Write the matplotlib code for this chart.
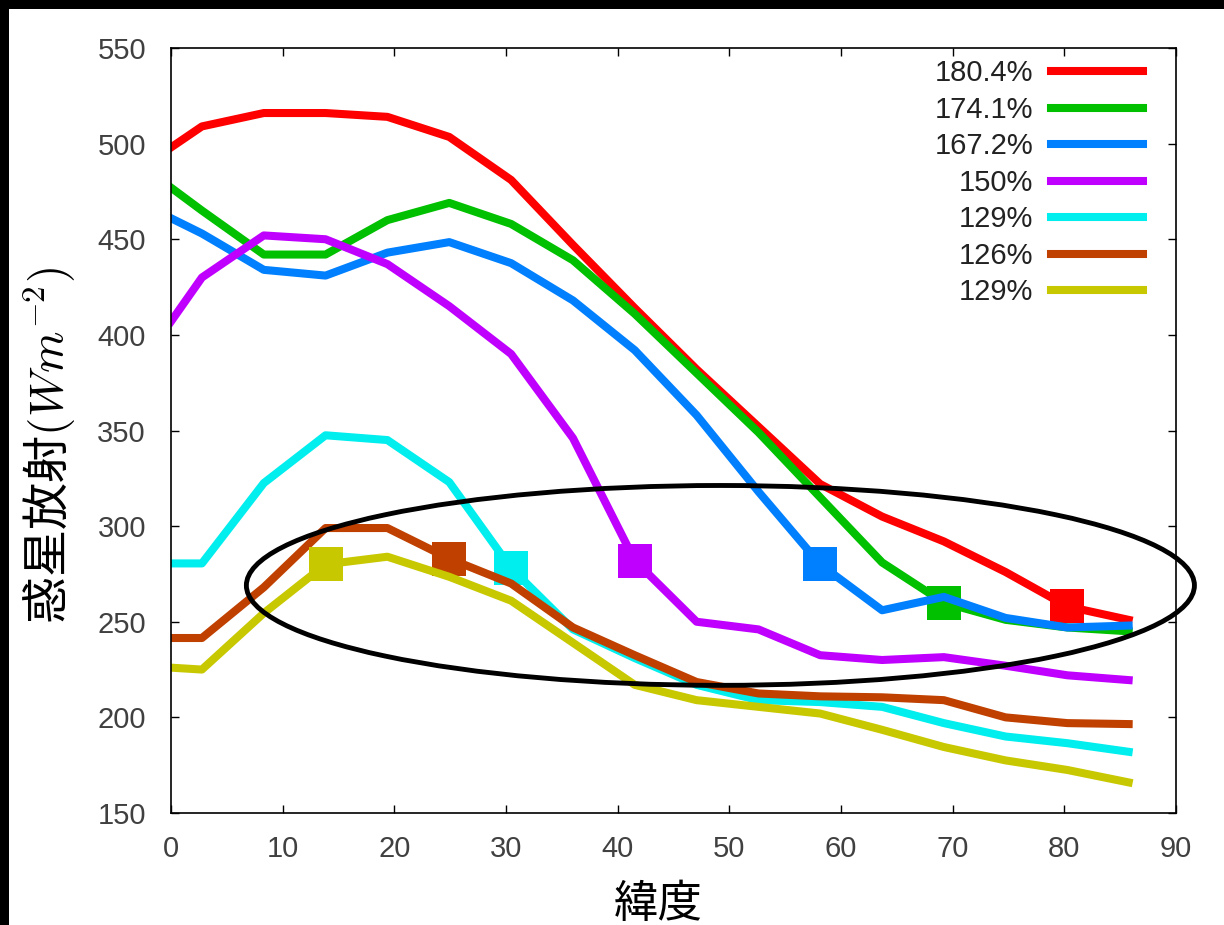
import matplotlib
matplotlib.use("Agg")
import matplotlib.pyplot as plt
from matplotlib.patches import Ellipse, Rectangle

plt.rcParams['font.family'] = ['Liberation Sans', 'Noto Sans CJK JP', 'DejaVu Sans']
plt.rcParams['mathtext.fontset'] = 'cm'

# latitude (deg) and outgoing radiation (W m^-2) per run
lat = [0, 2.77, 8.31, 13.84, 19.38, 24.92, 30.46, 36.0, 41.53, 47.07,
       52.61, 58.14, 63.68, 69.21, 74.74, 80.27, 85.76]

red = [498, 509, 516, 516, 514, 503.5, 481, 447, 414, 382, 352, 322, 305, 292, 276, 258, 251]
green = [477, 465, 442, 442, 460, 469, 458, 439, 411, 380, 349, 315, 281, 260, 251, 247, 245]
blue = [461, 453, 434, 431, 443, 448.5, 437.5, 418, 392, 358, 318, 280, 256, 263, 252, 247, 248]
purple = [407, 430, 452, 450, 437, 415, 390, 346, 282, 250, 246, 232.5, 230, 231.5, 227, 222, 219.5]
cyan = [280.5, 280.5, 322.5, 347.5, 345, 323, 278, 246, 231, 217, 209, 208, 205.5, 197, 190, 186.5, 182]
orange = [241.5, 241.5, 268, 299, 299, 283, 270, 247, 232.5, 218.5, 212.5, 211, 210.5, 209, 200, 197, 196.5]
yellow = [226, 225, 254.5, 280, 284, 273.5, 261, 239, 217, 209, 205.5, 202, 193.5, 184.5, 177.5, 172.5, 166]

series = [red, green, blue, purple, cyan, orange, yellow]
labels = ['180.4%', '174.1%', '167.2%', '150%', '129%', '126%', '129%']
colors = ['#ff0000', '#00c000', '#0080ff', '#c000ff', '#00eeee', '#c04000', '#c8c800']
marker_idx = [15, 13, 11, 8, 6, 5, 3]

fig = plt.figure(figsize=(12.24, 9.25), dpi=100)
fig.patch.set_facecolor('black')
fig.patches.append(Rectangle((9 / 1224, 0), 1, 916 / 925, transform=fig.transFigure,
                             facecolor='white', edgecolor='none', zorder=-10))

ax = fig.add_axes([171 / 1224, 1 - 813 / 925, 1005 / 1224, 765 / 925])

for vals, lab, col, mi in zip(series, labels, colors, marker_idx):
    ax.plot(lat, vals, color=col, lw=5.8, label=lab)
    ax.plot(lat[mi], vals[mi], 's', color=col, ms=25, mew=0)

# circled region
ax.add_patch(Ellipse((49.2, 269), 84.9, 104.5, fill=False, edgecolor='black',
                     lw=3.5, zorder=10, clip_on=False))

ax.set_xlim(0, 90)
ax.set_ylim(150, 550)
ax.set_xticks(range(0, 91, 10))
ax.set_yticks(range(150, 551, 50))
ax.tick_params(direction='in', length=6, width=1, top=True, right=True,
               labelsize=21, labelcolor='#404040')
ax.tick_params(axis='y', pad=18)
ax.tick_params(axis='x', pad=16)
for sp in ax.spines.values():
    sp.set_linewidth(1.2)

ax.set_xlabel('緯度', fontsize=32, labelpad=13, fontfamily='Noto Sans CJK JP')
ax.xaxis.label.set_x(0.485)
ax.set_ylabel('惑星放射$(W m^{-2})$', fontsize=34, labelpad=14,
              fontfamily='Noto Sans CJK JP')
ax.yaxis.label.set_y(0.48)

ax.legend(loc='upper right', bbox_to_anchor=(0.967, 0.985), markerfirst=False,
          frameon=False, fontsize=21, handlelength=3.15, handletextpad=0.6,
          labelspacing=0.29, borderpad=0, borderaxespad=0, labelcolor='#222222')

fig.savefig('out.png', dpi=100, facecolor=fig.get_facecolor())
